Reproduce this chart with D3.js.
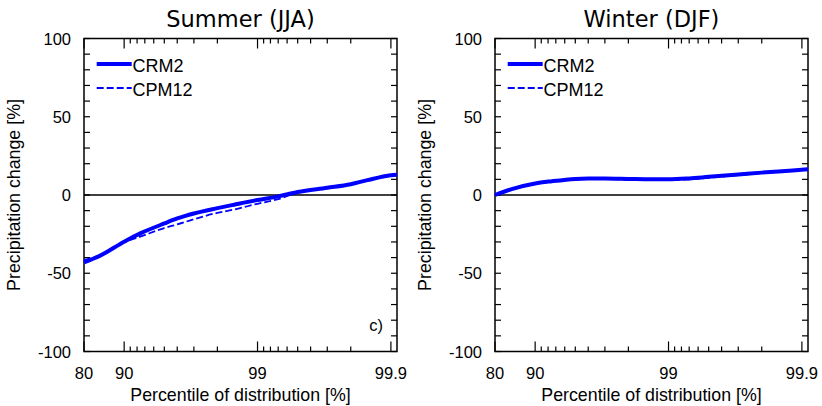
<!DOCTYPE html>
<html lang="en">
<meta charset="utf-8">
<head>
    <script src='https://d3js.org/d3.v7.min.js'></script>
    <style>
        body { margin: 0; background: #fff; }
        text { font-family: 'Liberation Sans', Arial, sans-serif; }
    </style>
</head>
<body>
</body>

<script>
    var width = 822, height = 406;

    // percentiles of the distribution and precipitation change [%]
    var percentiles = [80, 85, 90, 92.5, 95, 96, 97, 98, 98.5, 99, 99.3, 99.5, 99.7, 99.8, 99.85, 99.9, 99.91];
    var summerCRM2  = [-43, -38.6, -29.8, -24.4, -18.2, -15, -11.8, -8.4, -6.2, -3.2, -0.9, 1.9, 4.6, 6.9, 9.5, 12.6, 13];
    var summerCPM12 = [-41.5, -38.4, -30.2, -26.5, -21.1, -18.8, -15.5, -11.4, -9.3, -5.6, -2.6, 1.5, 4.4, 6.8, 9.3, 12.5, 12.9];
    var winterCRM2  = [0, 3.8, 7.4, 8.8, 10.3, 10.6, 10.6, 10.3, 10.1, 10, 10.6, 11.6, 13.1, 14.3, 15, 16.2, 16.5];
    var winterCPM12 = [-0.5, 3.4, 7, 8.6, 10, 10.3, 10.2, 9.8, 9.6, 9.5, 10, 11, 12.7, 14, 14.8, 16, 16.3];

    var xMajor = [80, 90, 99, 99.9];
    var xMinor = [91, 92, 93, 94, 95, 96, 97, 98, 99.1, 99.2, 99.3, 99.4, 99.5, 99.6, 99.7, 99.8];
    var yTicks = d3.range(-100, 101, 10);
    var yLabels = [-100, -50, 0, 50, 100];

    var panels = [
        {title: 'Summer (JJA)', left: 84, crm: summerCRM2, cpm: summerCPM12, tag: 'c)'},
        {title: 'Winter (DJF)', left: 495, crm: winterCRM2, cpm: winterCPM12, tag: ''}
    ];

    var svg = d3.select('body').append('svg').attr('width', width).attr('height', height);

    var pw = 313, plotTop = 38.5, plotBottom = 351.5;
    var blue = '#0000ff';

    // x is a log scale of (100 - percentile), reversed
    var xs = d3.scaleLog().domain([20, 0.09]).range([0, pw]);
    var x = function(p) { return xs(100 - p); };
    var y = d3.scaleLinear().domain([-100, 100]).range([plotBottom, plotTop]);

    panels.forEach(function(pn) {
        var g = svg.append('g').attr('transform', 'translate(' + pn.left + ',0)');

        // zero line
        g.append('line').attr('x1', 0).attr('x2', pw).attr('y1', y(0)).attr('y2', y(0))
            .attr('stroke', '#000').attr('stroke-width', 1.5);

        // y ticks both sides
        yTicks.forEach(function(v) {
            g.append('line').attr('x1', 0).attr('x2', 6).attr('y1', y(v)).attr('y2', y(v))
                .attr('stroke', '#000').attr('stroke-width', 1.2);
            g.append('line').attr('x1', pw - 6).attr('x2', pw).attr('y1', y(v)).attr('y2', y(v))
                .attr('stroke', '#000').attr('stroke-width', 1.2);
        });
        yLabels.forEach(function(v) {
            g.append('text').attr('x', -13).attr('y', y(v) + 6)
                .attr('text-anchor', 'end').attr('font-size', 16.5).text(v);
        });

        // x ticks top and bottom
        xMajor.forEach(function(p) {
            g.append('line').attr('x1', x(p)).attr('x2', x(p)).attr('y1', plotBottom).attr('y2', plotBottom - 10)
                .attr('stroke', '#000').attr('stroke-width', 1.2);
            g.append('line').attr('x1', x(p)).attr('x2', x(p)).attr('y1', plotTop).attr('y2', plotTop + 10)
                .attr('stroke', '#000').attr('stroke-width', 1.2);
            g.append('text').attr('x', x(p)).attr('y', 378.5)
                .attr('text-anchor', 'middle').attr('font-size', 16.5).text(p);
        });
        xMinor.forEach(function(p) {
            g.append('line').attr('x1', x(p)).attr('x2', x(p)).attr('y1', plotBottom).attr('y2', plotBottom - 5)
                .attr('stroke', '#000').attr('stroke-width', 1.2);
            g.append('line').attr('x1', x(p)).attr('x2', x(p)).attr('y1', plotTop).attr('y2', plotTop + 5)
                .attr('stroke', '#000').attr('stroke-width', 1.2);
        });

        // border
        g.append('rect').attr('x', 0).attr('y', plotTop).attr('width', pw).attr('height', plotBottom - plotTop)
            .attr('fill', 'none').attr('stroke', '#000').attr('stroke-width', 1.5);

        var line = d3.line()
            .x(function(d) { return x(d[0]); })
            .y(function(d) { return y(d[1]); })
            .curve(d3.curveMonotoneX);

        g.append('path').datum(d3.zip(percentiles, pn.cpm)).attr('d', line)
            .attr('fill', 'none').attr('stroke', blue).attr('stroke-width', 1.8)
            .attr('stroke-dasharray', '7,3');
        g.append('path').datum(d3.zip(percentiles, pn.crm)).attr('d', line)
            .attr('fill', 'none').attr('stroke', blue).attr('stroke-width', 4);

        // legend
        g.append('line').attr('x1', 12.7).attr('x2', 47.7).attr('y1', 64).attr('y2', 64)
            .attr('stroke', blue).attr('stroke-width', 4);
        g.append('text').attr('x', 48.5).attr('y', 71.5).attr('font-size', 18).text('CRM2');
        g.append('line').attr('x1', 12.7).attr('x2', 47.7).attr('y1', 88).attr('y2', 88)
            .attr('stroke', blue).attr('stroke-width', 1.8).attr('stroke-dasharray', '7,3');
        g.append('text').attr('x', 48.5).attr('y', 95.5).attr('font-size', 18).text('CPM12');

        if (pn.tag) {
            g.append('text').attr('x', pw - 14).attr('y', 331)
                .attr('text-anchor', 'end').attr('font-size', 16.5).text(pn.tag);
        }

        // titles and axis labels
        g.append('text').attr('x', pw / 2).attr('y', 27).attr('text-anchor', 'middle')
            .attr('font-size', 22.5).style('font-family', "'DejaVu Sans', sans-serif").text(pn.title);
        g.append('text').attr('x', pw / 2).attr('y', 401).attr('text-anchor', 'middle')
            .attr('font-size', 17.8).text('Percentile of distribution [%]');
        g.append('text').attr('transform', 'translate(' + (-64) + ',' + y(0) + ') rotate(-90)')
            .attr('text-anchor', 'middle').attr('font-size', 17.8).text('Precipitation change [%]');
    });
    console.log('ready..');
</script>
